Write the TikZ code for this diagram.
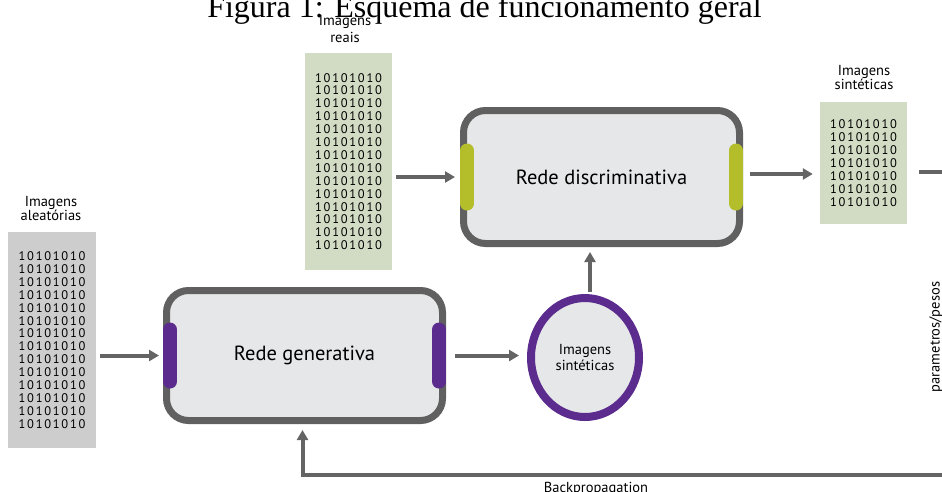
\documentclass[tikz,border=0pt]{standalone}
\usepackage{fontspec}
\setmainfont{PT Sans}
\newfontfamily\capfont{Liberation Serif}
\newfontfamily\bitfont[LetterSpace=14]{PT Sans}
\usetikzlibrary{arrows.meta,shapes.geometric}
\definecolor{boxline}{RGB}{96,96,96}
\definecolor{boxfill}{RGB}{230,231,232}
\definecolor{genpurple}{RGB}{91,44,142}
\definecolor{discgreen}{RGB}{180,189,42}
\definecolor{realgreen}{RGB}{210,220,196}
\definecolor{randgray}{RGB}{205,205,205}
\definecolor{arrowgray}{RGB}{100,100,100}
\tikzstyle{netbox}=[rectangle,rounded corners=22pt,draw=boxline,fill=boxfill,line width=7pt,minimum width=276pt,font=\fontsize{20.5}{24}\selectfont]
\tikzstyle{outcircle}=[ellipse,draw=genpurple,fill=boxfill,line width=8pt,minimum width=108pt,minimum height=119pt,inner sep=0pt,align=center,font=\fontsize{14.5}{15.5}\selectfont]
\tikzstyle{bitbox}=[rectangle,inner sep=0pt,align=center,font=\bitfont\fontsize{12.5}{12.9}\selectfont]
\tikzstyle{imgtag}=[align=center,inner sep=0pt,font=\fontsize{14.5}{14}\selectfont]
\tikzstyle{flow}=[draw=arrowgray,line width=4pt,-{Triangle[length=10pt,width=11pt]}]
\tikzstyle{flowline}=[draw=arrowgray,line width=4pt]
\tikzstyle{purplebar}=[draw=genpurple,line width=14pt,line cap=round]
\tikzstyle{greenbar}=[draw=discgreen,line width=14pt,line cap=round]
\newcommand{\sevenrows}{10101010\\10101010\\10101010\\10101010\\10101010\\10101010\\10101010}

\begin{document}
\begin{tikzpicture}[x=1pt,y=-1pt]
    \useasboundingbox (0,0) rectangle (942,491);

    \node[font=\capfont\fontsize{32}{36}\selectfont,anchor=base] (caption) at (484.5,17) {Figura 1: Esquema de funcionamento geral};

    % image blocks
    \node[bitbox,fill=randgray,minimum width=88pt,minimum height=216pt] (rand) at (52,340) {\sevenrows\\\sevenrows};
    \node[bitbox,fill=realgreen,minimum width=87pt,minimum height=217pt] (real) at (348.5,161.5) {\sevenrows\\\sevenrows};
    \node[bitbox,fill=realgreen,minimum width=87pt,minimum height=122pt] (synth) at (863.5,163) {\sevenrows};

    \node[imgtag] (randtag) at (51,208.5) {Imagens\\aleatórias};
    \node[imgtag,font=\fontsize{14.5}{16.5}\selectfont] (realtag) at (345,29) {Imagens\\reais};
    \node[imgtag] (synthtag) at (864,78) {Imagens\\sintéticas};

    % networks
    \node[netbox,minimum height=130pt] (gen) at (304.5,355.5) {Rede generativa};
    \node[netbox,minimum height=133pt] (disc) at (601.5,177) {Rede discriminativa};
    \node[outcircle] (circ) at (585,357.5) {Imagens\\sintéticas};

    \draw[purplebar] ([xshift=7pt,yshift=-26pt]gen.west) -- ([xshift=7pt,yshift=26pt]gen.west);
    \draw[purplebar] ([xshift=-7pt,yshift=-26pt]gen.east) -- ([xshift=-7pt,yshift=26pt]gen.east);
    \draw[greenbar] ([xshift=7pt,yshift=-26.5pt]disc.west) -- ([xshift=7pt,yshift=26.5pt]disc.west);
    \draw[greenbar] ([xshift=-7pt,yshift=-26.5pt]disc.east) -- ([xshift=-7pt,yshift=26.5pt]disc.east);

    % data flow
    \draw[flow,shorten <=4pt,shorten >=4pt] (rand.east |- gen.west) -- (gen.west);
    \draw[flow,shorten <=4pt,shorten >=5pt] (real.east |- disc.west) -- (disc.west);
    \draw[flow,shorten <=7pt,shorten >=7pt] ([yshift=3pt]disc.east) -- ([yshift=3pt]disc.east -| synth.west);
    \draw[flow,shorten <=9pt,shorten >=8pt] (gen.east) -- (gen.east -| circ.west);
    \draw[flow,shorten <=2pt,shorten >=5pt] ([xshift=5pt]circ.north) -- ([xshift=5pt]circ.north |- disc.south);

    % feedback
    \coordinate (outR) at (960,172);
    \coordinate (backR) at (960,475);
    \draw[flowline,shorten <=12pt] (synth.east |- outR) -- (outR);
    \draw[flow,shorten >=6pt] (backR) -| ([xshift=-2pt]gen.south);
    \node[imgtag,anchor=north] (backtag) at (596,482) {Backpropagation};
    \node[imgtag,rotate=90] (paramtag) at (936,337) {parametros/pesos};
\end{tikzpicture}
\end{document}
